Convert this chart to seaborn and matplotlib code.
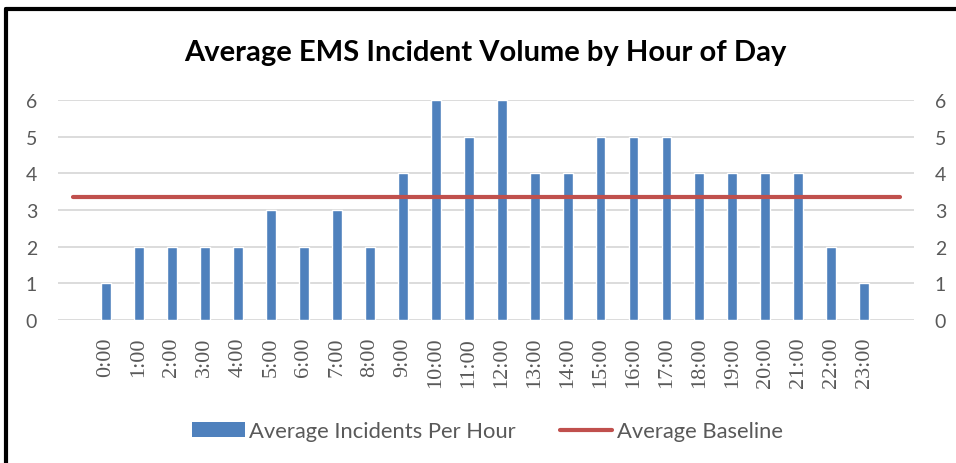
import matplotlib
matplotlib.use("Agg")
import matplotlib.pyplot as plt
import seaborn as sns
import pandas as pd
from matplotlib.lines import Line2D
from matplotlib.patches import Patch

# chart data
hours = [f"{h}:00" for h in range(24)]
incidents = [1, 2, 2, 2, 2, 3, 2, 3, 2, 4, 6, 5, 6, 4, 4, 5, 5, 5, 4, 4, 4, 4, 2, 1]
baseline = 3.35
y_ticks = [0, 1, 2, 3, 4, 5, 6]

bar_color = "#4F81BD"
line_color = "#C0504D"
text_gray = "#595959"

sns.set_theme(style="white")
plt.rcParams["font.family"] = ["Lato", "DejaVu Sans"]

df = pd.DataFrame({"hour": hours, "incidents": incidents})

fig = plt.figure(figsize=(9.56, 4.64), dpi=100)
ax = fig.add_axes([0.0607, 0.308, 0.8954, 0.474])

sns.barplot(data=df, x="hour", y="incidents", color=bar_color, width=0.3,
            saturation=1, ax=ax, zorder=3)
ax.set_xlim(-1.456, 24.51)
ax.set_ylim(0, 6)
ax.set_yticks(y_ticks)
ax.set_xlabel("")
ax.set_ylabel("")
ax.grid(axis="y", color="#D9D9D9", linewidth=1.3, zorder=0)
for s in ax.spines.values():
    s.set_visible(False)
ax.tick_params(axis="y", length=0, labelsize=14, labelcolor=text_gray, pad=15)
ax.tick_params(axis="x", length=0, pad=12)
for lbl in ax.get_xticklabels():
    lbl.set_rotation(90)
    lbl.set_fontfamily("Liberation Serif")
    lbl.set_fontsize(16)
    lbl.set_color(text_gray)

# secondary axis for the baseline series
ax2 = ax.twinx()
ax2.set_ylim(0, 6)
ax2.set_yticks(y_ticks)
ax2.axhline(baseline, xmin=0.0175, xmax=0.984, color=line_color, linewidth=3,
            solid_capstyle="round", zorder=4)
for s in ax2.spines.values():
    s.set_visible(False)
ax2.tick_params(axis="y", length=0, labelsize=14, labelcolor=text_gray, pad=15)

fig.text(0.508, 0.886, "Average EMS Incident Volume by Hour of Day",
         ha="center", va="center", fontsize=21, fontweight="bold", color="black")

handles = [Patch(facecolor=bar_color, edgecolor="none"),
           Line2D([0], [0], color=line_color, linewidth=3, solid_capstyle="round")]
fig.legend(handles, ["Average Incidents Per Hour", "Average Baseline"],
           loc="center", bbox_to_anchor=(0.51, 0.068), ncol=2, frameon=False,
           fontsize=15.8, labelcolor=text_gray, handlelength=2.4, handletextpad=0.2,
           columnspacing=2.0)

# outer frame (left and top edges only)
fig.add_artist(Line2D([0.0063, 0.0063], [0, 0.979], color="black", linewidth=3,
                      transform=fig.transFigure))
fig.add_artist(Line2D([0.0063, 1.0], [0.979, 0.979], color="black", linewidth=3,
                      transform=fig.transFigure))

fig.savefig("out.png", dpi=100)
